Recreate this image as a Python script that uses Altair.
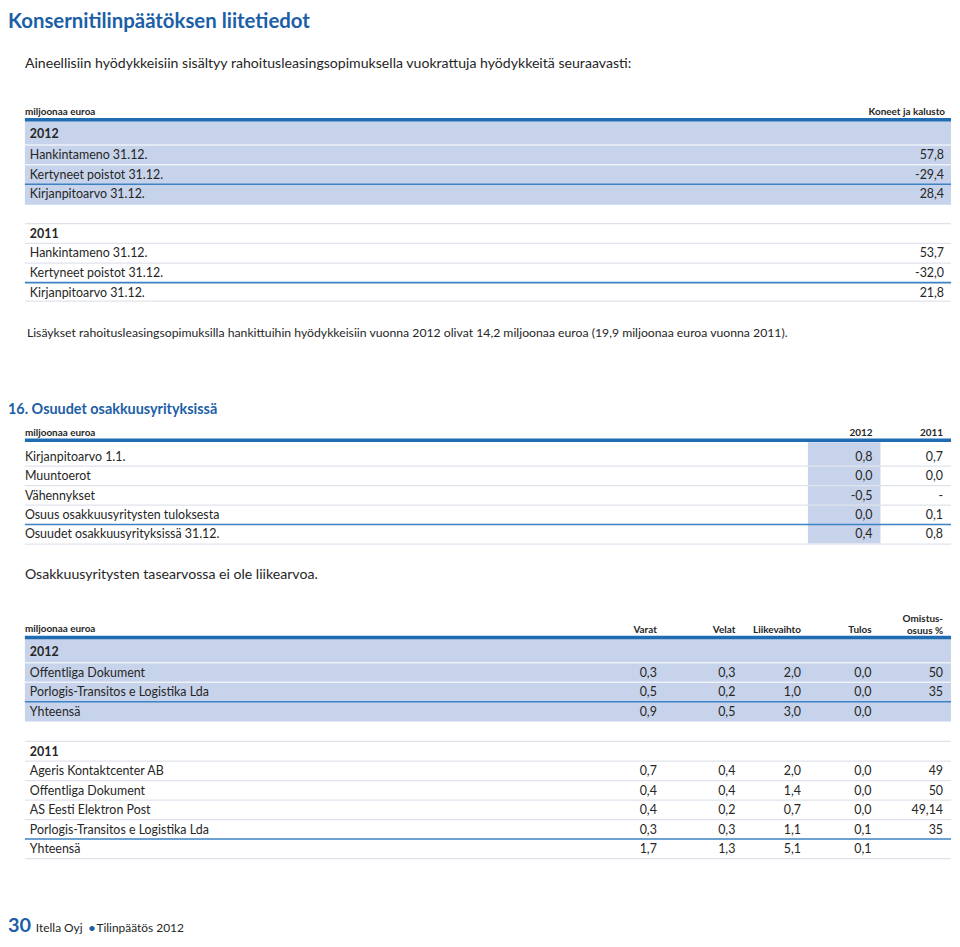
import altair as alt
import pandas as pd

# ---------------- data ----------------
title = "Konsernitilinpäätöksen liitetiedot"
intro = "Aineellisiin hyödykkeisiin sisältyy rahoitusleasingsopimuksella vuokrattuja hyödykkeitä seuraavasti:"
unit = "miljoonaa euroa"

t1_header = "Koneet ja kalusto"
t1_years = ["2012", "2011"]
t1_rows = ["Hankintameno 31.12.", "Kertyneet poistot 31.12.", "Kirjanpitoarvo 31.12."]
t1_2012 = ["57,8", "-29,4", "28,4"]
t1_2011 = ["53,7", "-32,0", "21,8"]
note1 = ("Lisäykset rahoitusleasingsopimuksilla hankittuihin hyödykkeisiin vuonna 2012 olivat 14,2  "
         "miljoonaa euroa (19,9 miljoonaa euroa vuonna 2011).")

sec16 = "16. Osuudet osakkuusyrityksissä"
t2_years = ["2012", "2011"]
t2_rows = ["Kirjanpitoarvo 1.1.", "Muuntoerot", "Vähennykset",
           "Osuus osakkuusyritysten tuloksesta", "Osuudet osakkuusyrityksissä 31.12."]
t2_2012 = ["0,8", "0,0", "-0,5", "0,0", "0,4"]
t2_2011 = ["0,7", "0,0", "-", "0,1", "0,8"]
note2 = "Osakkuusyritysten tasearvossa ei ole liikearvoa."

t3_cols = ["Varat", "Velat", "Liikevaihto", "Tulos", "osuus %"]
t3_col_extra = "Omistus-"
t3_2012_rows = ["Offentliga Dokument", "Porlogis-Transitos e Logistika Lda", "Yhteensä"]
t3_2012_varat = ["0,3", "0,5", "0,9"]
t3_2012_velat = ["0,3", "0,2", "0,5"]
t3_2012_liikevaihto = ["2,0", "1,0", "3,0"]
t3_2012_tulos = ["0,0", "0,0", "0,0"]
t3_2012_osuus = ["50", "35", ""]
t3_2011_rows = ["Ageris Kontaktcenter AB", "Offentliga Dokument", "AS Eesti Elektron Post",
                "Porlogis-Transitos e Logistika Lda", "Yhteensä"]
t3_2011_varat = ["0,7", "0,4", "0,4", "0,3", "1,7"]
t3_2011_velat = ["0,4", "0,4", "0,2", "0,3", "1,3"]
t3_2011_liikevaihto = ["2,0", "1,4", "0,7", "1,1", "5,1"]
t3_2011_tulos = ["0,0", "0,0", "0,0", "0,1", "0,1"]
t3_2011_osuus = ["49", "50", "49,14", "35", ""]

footer_page = "30"
footer_company = "Itella Oyj"
footer_bullet = "•"
footer_doc = "Tilinpäätös 2012"

# ---------------- styling / layout ----------------
BLUE_DARK = "#1b60a6"
BLUE_RULE = "#1f6cb3"
BLUE_LINE = "#3d82c2"
BLUE_FILL = "#c7d3ea"
GREY_LINE = "#dfe4ec"
TXT = "#262626"
FONT = "Lato"

W, H = 950, 931
XS = alt.Scale(domain=[8, 8 + W], nice=False, zero=False)
YS = alt.Scale(domain=[8, 8 + H], nice=False, zero=False, reverse=True)
L, R = 25, 957

texts = {k: [] for k in ["body", "intro", "note1", "year", "unit", "title", "sec", "page", "foot", "bullet"]}
rects, rules_rule, rules_line, rules_grey, rules_white = [], [], [], [], []


def T(kind, x, y, t, align="left"):
    texts[kind].append({"x": x, "y": y, "t": t, "a": align})


# title & intro
T("title", 8, 19, title)
T("intro", 25, 61, intro)

# ---- table 1 ----
T("unit", 25, 110, unit)
T("unit", 951, 110, t1_header, "right")
rules_rule.append({"x": L, "x2": R, "y": 117.5})
rects.append({"x": L, "x2": R, "y": 119, "y2": 203})
for yr, vals, top in [(t1_years[0], t1_2012, 119), (t1_years[1], t1_2011, 222)]:
    if top == 222:
        rules_grey.append({"x": L, "x2": R, "y": 222})
    T("year", 30, top + 13 if top == 119 else top + 10, yr)
    first = top + 24 if top == 119 else top + 20
    for i, (lab, v) in enumerate(zip(t1_rows, vals)):
        ry = first + i * 19.7
        T("body", 30, ry + 10, lab)
        T("body", 950, ry + 10, v, "right")
        if i < 2:
            (rules_white if top == 119 else rules_grey).append({"x": L, "x2": R, "y": ry})
        else:
            rules_line.append({"x": L, "x2": R, "y": ry})
    if top == 222:
        rules_grey.append({"x": L, "x2": R, "y": 300})
T("note1", 27, 332, note1)

# ---- table 2 ----
T("sec", 8, 410, sec16)
T("unit", 25, 433, unit)
T("unit", 878, 433, t2_years[0], "right")
T("unit", 949, 433, t2_years[1], "right")
rules_rule.append({"x": L, "x2": R, "y": 440})
rects.append({"x": 813, "x2": 886, "y": 442, "y2": 544})
for i, (lab, a, b) in enumerate(zip(t2_rows, t2_2012, t2_2011)):
    top = 446.5 + i * 19.6
    T("body", 25, top + 10, lab)
    T("body", 878, top + 10, a, "right")
    T("body", 949, top + 10, b, "right")
    bottom = top + 19.6
    if i == 3:
        rules_line.append({"x": L, "x2": R, "y": bottom})
    else:
        rules_grey.append({"x": L, "x2": R, "y": bottom})
T("intro", 25, 576, note2)

# ---- table 3 ----
colx = [661, 740, 806, 877, 949]
T("unit", 25, 630, unit)
for cx, c in zip(colx, t3_cols):
    T("unit", cx, 631 if c != "osuus %" else 632, c, "right")
T("unit", 949, 620, t3_col_extra, "right")
rules_rule.append({"x": L, "x2": R, "y": 638.5})
rects.append({"x": L, "x2": R, "y": 640, "y2": 723})

blocks = [
    (t1_years[0], 640, 24, t3_2012_rows,
     [t3_2012_varat, t3_2012_velat, t3_2012_liikevaihto, t3_2012_tulos, t3_2012_osuus], rules_white),
    (t1_years[1], 743, 20, t3_2011_rows,
     [t3_2011_varat, t3_2011_velat, t3_2011_liikevaihto, t3_2011_tulos, t3_2011_osuus], rules_grey),
]
for yr, top, yh, rows, cols, sep in blocks:
    if top == 743:
        rules_grey.append({"x": L, "x2": R, "y": 743})
    T("year", 30, top + yh / 2 + 1, yr)
    first = top + yh
    n = len(rows)
    for i, lab in enumerate(rows):
        ry = first + i * 19.6
        T("body", 30, ry + 10, lab)
        for cx, col in zip(colx, cols):
            if col[i]:
                T("body", cx, ry + 10, col[i], "right")
        if i == n - 1:
            rules_line.append({"x": L, "x2": R, "y": ry})
        else:
            sep.append({"x": L, "x2": R, "y": ry})
    if top == 743:
        rules_grey.append({"x": L, "x2": R, "y": first + n * 19.6})

# footer
T("page", 8, 929, footer_page)
T("foot", 36, 931, footer_company)
T("bullet", 89, 931, footer_bullet)
T("foot", 97, 931, footer_doc)

# ---------------- chart ----------------
def xenc():
    return alt.X("x:Q", scale=XS, axis=None)


def yenc():
    return alt.Y("y:Q", scale=YS, axis=None)


def rect_layer(rows, color):
    return alt.Chart(pd.DataFrame(rows)).mark_rect(color=color).encode(
        x=xenc(), x2="x2:Q", y=yenc(), y2="y2:Q")


def rule_layer(rows, color, width):
    return alt.Chart(pd.DataFrame(rows)).mark_rule(color=color, strokeWidth=width).encode(
        x=xenc(), x2="x2:Q", y=yenc())


styles = {
    "body": dict(fontSize=12.5, font=FONT, color=TXT, fontWeight="normal"),
    "intro": dict(fontSize=14.2, font=FONT, color=TXT, fontWeight="normal"),
    "note1": dict(fontSize=12.3, font=FONT, color=TXT, fontWeight="normal"),
    "year": dict(fontSize=12.5, font=FONT, color=TXT, fontWeight="bold"),
    "unit": dict(fontSize=10, font=FONT, color=TXT, fontWeight="bold"),
    "title": dict(fontSize=20.5, font=FONT, color=BLUE_DARK, fontWeight="bold"),
    "sec": dict(fontSize=14.5, font=FONT, color=BLUE_DARK, fontWeight="bold"),
    "page": dict(fontSize=20, font=FONT, color=BLUE_DARK, fontWeight="bold"),
    "foot": dict(fontSize=12, font=FONT, color=TXT, fontWeight="normal"),
    "bullet": dict(fontSize=12, font=FONT, color=BLUE_DARK, fontWeight="bold"),
}


def text_layers(kind):
    df = pd.DataFrame(texts[kind])
    out = []
    for a in ["left", "right"]:
        sub = df[df["a"] == a]
        if len(sub) == 0:
            continue
        out.append(alt.Chart(sub).mark_text(align=a, baseline="middle", **styles[kind]).encode(
            x=xenc(), y=yenc(), text="t:N"))
    return out


layers = [rect_layer(rects, BLUE_FILL),
          rule_layer(rules_grey, GREY_LINE, 1.2),
          rule_layer(rules_white, "#eef2f9", 1.5),
          rule_layer(rules_line, BLUE_LINE, 1.6),
          rule_layer(rules_rule, BLUE_RULE, 3.5)]
for k in texts:
    layers += text_layers(k)

chart = alt.layer(*layers).properties(
    width=W, height=H, padding=0, autosize=alt.AutoSizeParams(type="none"),
    background="white"
).configure_view(strokeWidth=0)

chart.save("out.html", embed_options={"renderer": "svg", "actions": False})
